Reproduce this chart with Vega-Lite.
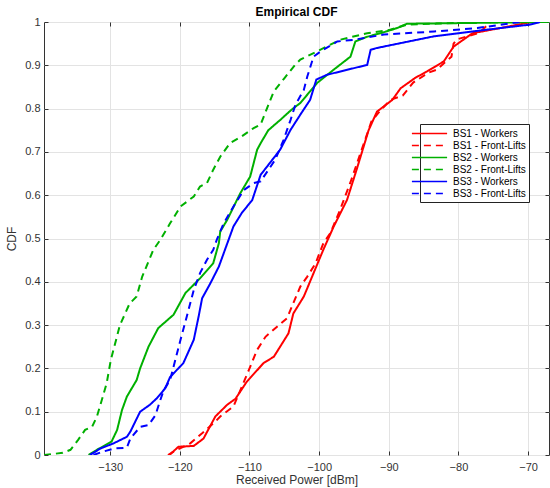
{
  "$schema": "https://vega.github.io/schema/vega-lite/v6.json",
  "width": 505,
  "height": 433,
  "autosize": {"type": "none"},
  "padding": {"left": 44, "top": 22, "right": 1, "bottom": 33},
  "background": "white",
  "title": {"text": "Empirical CDF", "fontSize": 12, "fontWeight": "bold", "font": "Liberation Sans", "color": "#000", "offset": -3},
  "config": {
    "view": {"stroke": "#333", "strokeWidth": 1},
    "axis": {
      "labelFont": "Liberation Sans",
      "labelFontSize": 11,
      "labelColor": "#333",
      "titleFont": "Liberation Sans",
      "titleFontSize": 12,
      "titleFontWeight": "normal",
      "titleColor": "#333",
      "domainColor": "#333",
      "tickColor": "#333",
      "gridColor": "#e3e3e3",
      "gridWidth": 1
    }
  },
  "data": {
    "values": [
      {"s": "BS1 - Workers", "i": 0, "x": -121.5, "y": 0},
      {"s": "BS1 - Workers", "i": 1, "x": -120.2, "y": 0.019},
      {"s": "BS1 - Workers", "i": 2, "x": -118.0, "y": 0.021},
      {"s": "BS1 - Workers", "i": 3, "x": -116.6, "y": 0.038},
      {"s": "BS1 - Workers", "i": 4, "x": -114.9, "y": 0.089},
      {"s": "BS1 - Workers", "i": 5, "x": -113.2, "y": 0.116},
      {"s": "BS1 - Workers", "i": 6, "x": -112.0, "y": 0.13},
      {"s": "BS1 - Workers", "i": 7, "x": -110.4, "y": 0.169},
      {"s": "BS1 - Workers", "i": 8, "x": -108.0, "y": 0.212},
      {"s": "BS1 - Workers", "i": 9, "x": -106.5, "y": 0.227},
      {"s": "BS1 - Workers", "i": 10, "x": -104.4, "y": 0.281},
      {"s": "BS1 - Workers", "i": 11, "x": -103.7, "y": 0.327},
      {"s": "BS1 - Workers", "i": 12, "x": -102.2, "y": 0.366},
      {"s": "BS1 - Workers", "i": 13, "x": -100.8, "y": 0.42},
      {"s": "BS1 - Workers", "i": 14, "x": -99.4, "y": 0.474},
      {"s": "BS1 - Workers", "i": 15, "x": -97.9, "y": 0.528},
      {"s": "BS1 - Workers", "i": 16, "x": -96.0, "y": 0.589},
      {"s": "BS1 - Workers", "i": 17, "x": -94.6, "y": 0.66},
      {"s": "BS1 - Workers", "i": 18, "x": -92.9, "y": 0.75},
      {"s": "BS1 - Workers", "i": 19, "x": -91.7, "y": 0.793},
      {"s": "BS1 - Workers", "i": 20, "x": -89.5, "y": 0.82},
      {"s": "BS1 - Workers", "i": 21, "x": -88.3, "y": 0.847},
      {"s": "BS1 - Workers", "i": 22, "x": -86.2, "y": 0.871},
      {"s": "BS1 - Workers", "i": 23, "x": -84.5, "y": 0.886},
      {"s": "BS1 - Workers", "i": 24, "x": -82.1, "y": 0.909},
      {"s": "BS1 - Workers", "i": 25, "x": -80.7, "y": 0.943},
      {"s": "BS1 - Workers", "i": 26, "x": -78.0, "y": 0.974},
      {"s": "BS1 - Workers", "i": 27, "x": -74.0, "y": 0.986},
      {"s": "BS1 - Workers", "i": 28, "x": -70.1, "y": 0.998},
      {"s": "BS1 - Workers", "i": 29, "x": -69.5, "y": 1},

      {"s": "BS1 - Front-Lifts", "i": 0, "x": -121.7, "y": 0},
      {"s": "BS1 - Front-Lifts", "i": 1, "x": -120.9, "y": 0.008},
      {"s": "BS1 - Front-Lifts", "i": 2, "x": -118.5, "y": 0.027},
      {"s": "BS1 - Front-Lifts", "i": 3, "x": -116.8, "y": 0.05},
      {"s": "BS1 - Front-Lifts", "i": 4, "x": -114.9, "y": 0.077},
      {"s": "BS1 - Front-Lifts", "i": 5, "x": -114.2, "y": 0.089},
      {"s": "BS1 - Front-Lifts", "i": 6, "x": -112.3, "y": 0.112},
      {"s": "BS1 - Front-Lifts", "i": 7, "x": -111.3, "y": 0.15},
      {"s": "BS1 - Front-Lifts", "i": 8, "x": -110.1, "y": 0.196},
      {"s": "BS1 - Front-Lifts", "i": 9, "x": -108.9, "y": 0.243},
      {"s": "BS1 - Front-Lifts", "i": 10, "x": -107.7, "y": 0.273},
      {"s": "BS1 - Front-Lifts", "i": 11, "x": -106.0, "y": 0.297},
      {"s": "BS1 - Front-Lifts", "i": 12, "x": -104.6, "y": 0.316},
      {"s": "BS1 - Front-Lifts", "i": 13, "x": -103.7, "y": 0.351},
      {"s": "BS1 - Front-Lifts", "i": 14, "x": -102.7, "y": 0.389},
      {"s": "BS1 - Front-Lifts", "i": 15, "x": -101.7, "y": 0.412},
      {"s": "BS1 - Front-Lifts", "i": 16, "x": -100.5, "y": 0.443},
      {"s": "BS1 - Front-Lifts", "i": 17, "x": -99.4, "y": 0.489},
      {"s": "BS1 - Front-Lifts", "i": 18, "x": -98.4, "y": 0.512},
      {"s": "BS1 - Front-Lifts", "i": 19, "x": -97.0, "y": 0.566},
      {"s": "BS1 - Front-Lifts", "i": 20, "x": -95.5, "y": 0.63},
      {"s": "BS1 - Front-Lifts", "i": 21, "x": -94.0, "y": 0.7},
      {"s": "BS1 - Front-Lifts", "i": 22, "x": -92.5, "y": 0.77},
      {"s": "BS1 - Front-Lifts", "i": 23, "x": -91.5, "y": 0.79},
      {"s": "BS1 - Front-Lifts", "i": 24, "x": -89.8, "y": 0.82},
      {"s": "BS1 - Front-Lifts", "i": 25, "x": -88.0, "y": 0.83},
      {"s": "BS1 - Front-Lifts", "i": 26, "x": -86.5, "y": 0.86},
      {"s": "BS1 - Front-Lifts", "i": 27, "x": -84.3, "y": 0.883},
      {"s": "BS1 - Front-Lifts", "i": 28, "x": -83.1, "y": 0.89},
      {"s": "BS1 - Front-Lifts", "i": 29, "x": -81.0, "y": 0.92},
      {"s": "BS1 - Front-Lifts", "i": 30, "x": -80.7, "y": 0.95},
      {"s": "BS1 - Front-Lifts", "i": 31, "x": -80.2, "y": 0.96},
      {"s": "BS1 - Front-Lifts", "i": 32, "x": -77.0, "y": 0.975},
      {"s": "BS1 - Front-Lifts", "i": 33, "x": -75.4, "y": 1},

      {"s": "BS2 - Workers", "i": 0, "x": -133.1, "y": 0},
      {"s": "BS2 - Workers", "i": 1, "x": -131.9, "y": 0.012},
      {"s": "BS2 - Workers", "i": 2, "x": -129.8, "y": 0.031},
      {"s": "BS2 - Workers", "i": 3, "x": -129.0, "y": 0.058},
      {"s": "BS2 - Workers", "i": 4, "x": -128.3, "y": 0.104},
      {"s": "BS2 - Workers", "i": 5, "x": -127.6, "y": 0.135},
      {"s": "BS2 - Workers", "i": 6, "x": -126.9, "y": 0.154},
      {"s": "BS2 - Workers", "i": 7, "x": -126.2, "y": 0.173},
      {"s": "BS2 - Workers", "i": 8, "x": -125.7, "y": 0.2},
      {"s": "BS2 - Workers", "i": 9, "x": -124.5, "y": 0.25},
      {"s": "BS2 - Workers", "i": 10, "x": -123.1, "y": 0.293},
      {"s": "BS2 - Workers", "i": 11, "x": -120.9, "y": 0.324},
      {"s": "BS2 - Workers", "i": 12, "x": -119.2, "y": 0.374},
      {"s": "BS2 - Workers", "i": 13, "x": -117.1, "y": 0.408},
      {"s": "BS2 - Workers", "i": 14, "x": -115.2, "y": 0.443},
      {"s": "BS2 - Workers", "i": 15, "x": -114.4, "y": 0.489},
      {"s": "BS2 - Workers", "i": 16, "x": -114.2, "y": 0.516},
      {"s": "BS2 - Workers", "i": 17, "x": -113.2, "y": 0.543},
      {"s": "BS2 - Workers", "i": 18, "x": -111.8, "y": 0.589},
      {"s": "BS2 - Workers", "i": 19, "x": -111.3, "y": 0.605},
      {"s": "BS2 - Workers", "i": 20, "x": -109.9, "y": 0.643},
      {"s": "BS2 - Workers", "i": 21, "x": -108.9, "y": 0.705},
      {"s": "BS2 - Workers", "i": 22, "x": -108.4, "y": 0.72},
      {"s": "BS2 - Workers", "i": 23, "x": -107.3, "y": 0.75},
      {"s": "BS2 - Workers", "i": 24, "x": -105.5, "y": 0.775},
      {"s": "BS2 - Workers", "i": 25, "x": -104.0, "y": 0.797},
      {"s": "BS2 - Workers", "i": 26, "x": -102.7, "y": 0.813},
      {"s": "BS2 - Workers", "i": 27, "x": -100.3, "y": 0.859},
      {"s": "BS2 - Workers", "i": 28, "x": -97.9, "y": 0.89},
      {"s": "BS2 - Workers", "i": 29, "x": -95.5, "y": 0.92},
      {"s": "BS2 - Workers", "i": 30, "x": -94.8, "y": 0.955},
      {"s": "BS2 - Workers", "i": 31, "x": -93.1, "y": 0.966},
      {"s": "BS2 - Workers", "i": 32, "x": -91.2, "y": 0.974},
      {"s": "BS2 - Workers", "i": 33, "x": -88.8, "y": 0.986},
      {"s": "BS2 - Workers", "i": 34, "x": -87.4, "y": 0.996},
      {"s": "BS2 - Workers", "i": 35, "x": -67.0, "y": 1},

      {"s": "BS2 - Front-Lifts", "i": 0, "x": -139.5, "y": 0},
      {"s": "BS2 - Front-Lifts", "i": 1, "x": -136.8, "y": 0.005},
      {"s": "BS2 - Front-Lifts", "i": 2, "x": -135.7, "y": 0.012},
      {"s": "BS2 - Front-Lifts", "i": 3, "x": -134.6, "y": 0.035},
      {"s": "BS2 - Front-Lifts", "i": 4, "x": -133.6, "y": 0.058},
      {"s": "BS2 - Front-Lifts", "i": 5, "x": -132.6, "y": 0.065},
      {"s": "BS2 - Front-Lifts", "i": 6, "x": -131.9, "y": 0.089},
      {"s": "BS2 - Front-Lifts", "i": 7, "x": -131.2, "y": 0.127},
      {"s": "BS2 - Front-Lifts", "i": 8, "x": -130.5, "y": 0.166},
      {"s": "BS2 - Front-Lifts", "i": 9, "x": -129.9, "y": 0.22},
      {"s": "BS2 - Front-Lifts", "i": 10, "x": -128.6, "y": 0.3},
      {"s": "BS2 - Front-Lifts", "i": 11, "x": -127.2, "y": 0.35},
      {"s": "BS2 - Front-Lifts", "i": 12, "x": -126.2, "y": 0.366},
      {"s": "BS2 - Front-Lifts", "i": 13, "x": -125.4, "y": 0.412},
      {"s": "BS2 - Front-Lifts", "i": 14, "x": -123.8, "y": 0.474},
      {"s": "BS2 - Front-Lifts", "i": 15, "x": -122.8, "y": 0.497},
      {"s": "BS2 - Front-Lifts", "i": 16, "x": -121.4, "y": 0.535},
      {"s": "BS2 - Front-Lifts", "i": 17, "x": -119.9, "y": 0.574},
      {"s": "BS2 - Front-Lifts", "i": 18, "x": -118.0, "y": 0.597},
      {"s": "BS2 - Front-Lifts", "i": 19, "x": -117.1, "y": 0.62},
      {"s": "BS2 - Front-Lifts", "i": 20, "x": -116.1, "y": 0.628},
      {"s": "BS2 - Front-Lifts", "i": 21, "x": -115.2, "y": 0.659},
      {"s": "BS2 - Front-Lifts", "i": 22, "x": -114.2, "y": 0.689},
      {"s": "BS2 - Front-Lifts", "i": 23, "x": -112.8, "y": 0.72},
      {"s": "BS2 - Front-Lifts", "i": 24, "x": -111.1, "y": 0.736},
      {"s": "BS2 - Front-Lifts", "i": 25, "x": -109.4, "y": 0.755},
      {"s": "BS2 - Front-Lifts", "i": 26, "x": -108.4, "y": 0.763},
      {"s": "BS2 - Front-Lifts", "i": 27, "x": -107.5, "y": 0.8},
      {"s": "BS2 - Front-Lifts", "i": 28, "x": -106.5, "y": 0.84},
      {"s": "BS2 - Front-Lifts", "i": 29, "x": -105.0, "y": 0.87},
      {"s": "BS2 - Front-Lifts", "i": 30, "x": -103.5, "y": 0.9},
      {"s": "BS2 - Front-Lifts", "i": 31, "x": -102.7, "y": 0.913},
      {"s": "BS2 - Front-Lifts", "i": 32, "x": -99.8, "y": 0.936},
      {"s": "BS2 - Front-Lifts", "i": 33, "x": -97.0, "y": 0.959},
      {"s": "BS2 - Front-Lifts", "i": 34, "x": -93.1, "y": 0.974},
      {"s": "BS2 - Front-Lifts", "i": 35, "x": -89.8, "y": 0.982},
      {"s": "BS2 - Front-Lifts", "i": 36, "x": -87.4, "y": 0.994},
      {"s": "BS2 - Front-Lifts", "i": 37, "x": -80.2, "y": 0.998},
      {"s": "BS2 - Front-Lifts", "i": 38, "x": -79.5, "y": 1},

      {"s": "BS3 - Workers", "i": 0, "x": -132.9, "y": 0},
      {"s": "BS3 - Workers", "i": 1, "x": -131.4, "y": 0.015},
      {"s": "BS3 - Workers", "i": 2, "x": -129.5, "y": 0.027},
      {"s": "BS3 - Workers", "i": 3, "x": -127.6, "y": 0.042},
      {"s": "BS3 - Workers", "i": 4, "x": -127.1, "y": 0.054},
      {"s": "BS3 - Workers", "i": 5, "x": -126.4, "y": 0.077},
      {"s": "BS3 - Workers", "i": 6, "x": -125.7, "y": 0.1},
      {"s": "BS3 - Workers", "i": 7, "x": -124.3, "y": 0.116},
      {"s": "BS3 - Workers", "i": 8, "x": -123.3, "y": 0.131},
      {"s": "BS3 - Workers", "i": 9, "x": -122.1, "y": 0.154},
      {"s": "BS3 - Workers", "i": 10, "x": -121.4, "y": 0.18},
      {"s": "BS3 - Workers", "i": 11, "x": -119.5, "y": 0.212},
      {"s": "BS3 - Workers", "i": 12, "x": -118.0, "y": 0.266},
      {"s": "BS3 - Workers", "i": 13, "x": -117.3, "y": 0.32},
      {"s": "BS3 - Workers", "i": 14, "x": -116.8, "y": 0.362},
      {"s": "BS3 - Workers", "i": 15, "x": -115.6, "y": 0.397},
      {"s": "BS3 - Workers", "i": 16, "x": -114.4, "y": 0.435},
      {"s": "BS3 - Workers", "i": 17, "x": -113.7, "y": 0.466},
      {"s": "BS3 - Workers", "i": 18, "x": -113.0, "y": 0.497},
      {"s": "BS3 - Workers", "i": 19, "x": -112.3, "y": 0.528},
      {"s": "BS3 - Workers", "i": 20, "x": -111.1, "y": 0.559},
      {"s": "BS3 - Workers", "i": 21, "x": -109.6, "y": 0.589},
      {"s": "BS3 - Workers", "i": 22, "x": -108.4, "y": 0.647},
      {"s": "BS3 - Workers", "i": 23, "x": -105.6, "y": 0.705},
      {"s": "BS3 - Workers", "i": 24, "x": -104.1, "y": 0.751},
      {"s": "BS3 - Workers", "i": 25, "x": -102.7, "y": 0.786},
      {"s": "BS3 - Workers", "i": 26, "x": -101.3, "y": 0.82},
      {"s": "BS3 - Workers", "i": 27, "x": -100.4, "y": 0.867},
      {"s": "BS3 - Workers", "i": 28, "x": -98.9, "y": 0.878},
      {"s": "BS3 - Workers", "i": 29, "x": -93.1, "y": 0.901},
      {"s": "BS3 - Workers", "i": 30, "x": -92.6, "y": 0.936},
      {"s": "BS3 - Workers", "i": 31, "x": -91.7, "y": 0.94},
      {"s": "BS3 - Workers", "i": 32, "x": -83.5, "y": 0.967},
      {"s": "BS3 - Workers", "i": 33, "x": -74.0, "y": 0.986},
      {"s": "BS3 - Workers", "i": 34, "x": -69.7, "y": 0.994},
      {"s": "BS3 - Workers", "i": 35, "x": -68.3, "y": 1},

      {"s": "BS3 - Front-Lifts", "i": 0, "x": -132.4, "y": 0},
      {"s": "BS3 - Front-Lifts", "i": 1, "x": -131.0, "y": 0.008},
      {"s": "BS3 - Front-Lifts", "i": 2, "x": -129.4, "y": 0.015},
      {"s": "BS3 - Front-Lifts", "i": 3, "x": -127.6, "y": 0.017},
      {"s": "BS3 - Front-Lifts", "i": 4, "x": -127.1, "y": 0.038},
      {"s": "BS3 - Front-Lifts", "i": 5, "x": -125.7, "y": 0.065},
      {"s": "BS3 - Front-Lifts", "i": 6, "x": -124.5, "y": 0.069},
      {"s": "BS3 - Front-Lifts", "i": 7, "x": -123.5, "y": 0.092},
      {"s": "BS3 - Front-Lifts", "i": 8, "x": -122.8, "y": 0.127},
      {"s": "BS3 - Front-Lifts", "i": 9, "x": -122.3, "y": 0.15},
      {"s": "BS3 - Front-Lifts", "i": 10, "x": -121.4, "y": 0.173},
      {"s": "BS3 - Front-Lifts", "i": 11, "x": -120.9, "y": 0.204},
      {"s": "BS3 - Front-Lifts", "i": 12, "x": -119.9, "y": 0.266},
      {"s": "BS3 - Front-Lifts", "i": 13, "x": -119.0, "y": 0.32},
      {"s": "BS3 - Front-Lifts", "i": 14, "x": -118.0, "y": 0.381},
      {"s": "BS3 - Front-Lifts", "i": 15, "x": -117.1, "y": 0.42},
      {"s": "BS3 - Front-Lifts", "i": 16, "x": -116.1, "y": 0.451},
      {"s": "BS3 - Front-Lifts", "i": 17, "x": -115.2, "y": 0.474},
      {"s": "BS3 - Front-Lifts", "i": 18, "x": -114.7, "y": 0.497},
      {"s": "BS3 - Front-Lifts", "i": 19, "x": -113.7, "y": 0.535},
      {"s": "BS3 - Front-Lifts", "i": 20, "x": -112.3, "y": 0.574},
      {"s": "BS3 - Front-Lifts", "i": 21, "x": -110.8, "y": 0.612},
      {"s": "BS3 - Front-Lifts", "i": 22, "x": -109.4, "y": 0.628},
      {"s": "BS3 - Front-Lifts", "i": 23, "x": -108.4, "y": 0.632},
      {"s": "BS3 - Front-Lifts", "i": 24, "x": -106.3, "y": 0.682},
      {"s": "BS3 - Front-Lifts", "i": 25, "x": -105.1, "y": 0.728},
      {"s": "BS3 - Front-Lifts", "i": 26, "x": -104.1, "y": 0.774},
      {"s": "BS3 - Front-Lifts", "i": 27, "x": -103.4, "y": 0.809},
      {"s": "BS3 - Front-Lifts", "i": 28, "x": -102.2, "y": 0.843},
      {"s": "BS3 - Front-Lifts", "i": 29, "x": -101.7, "y": 0.874},
      {"s": "BS3 - Front-Lifts", "i": 30, "x": -100.8, "y": 0.92},
      {"s": "BS3 - Front-Lifts", "i": 31, "x": -99.8, "y": 0.932},
      {"s": "BS3 - Front-Lifts", "i": 32, "x": -97.4, "y": 0.955},
      {"s": "BS3 - Front-Lifts", "i": 33, "x": -95.0, "y": 0.959},
      {"s": "BS3 - Front-Lifts", "i": 34, "x": -90.7, "y": 0.971},
      {"s": "BS3 - Front-Lifts", "i": 35, "x": -83.5, "y": 0.978},
      {"s": "BS3 - Front-Lifts", "i": 36, "x": -77.3, "y": 0.986},
      {"s": "BS3 - Front-Lifts", "i": 37, "x": -72.1, "y": 0.998},
      {"s": "BS3 - Front-Lifts", "i": 38, "x": -71.0, "y": 1}
    ]
  },
  "layer": [
    {
      "mark": {"type": "line", "strokeWidth": 2, "clip": true},
      "encoding": {
        "x": {
          "field": "x", "type": "quantitative",
          "scale": {"domain": [-139.5, -67], "nice": false, "zero": false},
          "axis": {"values": [-130, -120, -110, -100, -90, -80, -70], "grid": true, "tickSize": -4, "labelPadding": 10, "title": "Received Power [dBm]", "titlePadding": 2, "domain": false}
        },
        "y": {
          "field": "y", "type": "quantitative",
          "scale": {"domain": [0, 1], "nice": false, "zero": false},
          "axis": {"values": [0, 0.1, 0.2, 0.3, 0.4, 0.5, 0.6, 0.7, 0.8, 0.9, 1], "format": "~g", "grid": true, "tickSize": -4, "labelPadding": 8, "title": "CDF", "titlePadding": 6, "domain": false}
        },
        "color": {
          "field": "s", "type": "nominal",
          "scale": {
            "domain": ["BS1 - Workers", "BS1 - Front-Lifts", "BS2 - Workers", "BS2 - Front-Lifts", "BS3 - Workers", "BS3 - Front-Lifts"],
            "range": ["#ff0000", "#ff0000", "#00b000", "#00b000", "#0000ff", "#0000ff"]
          },
          "legend": {
            "title": null, "orient": "none", "legendX": 376, "legendY": 102,
            "strokeColor": "#222", "fillColor": "white", "padding": 3,
            "symbolType": "M-3.2,0H3.2", "symbolSize": 121, "symbolStrokeWidth": 1.5,
            "labelFont": "Liberation Sans", "labelFontSize": 10, "labelColor": "#000",
            "rowPadding": -1, "labelOffset": 17
          }
        },
        "strokeDash": {
          "field": "s", "type": "nominal",
          "scale": {
            "domain": ["BS1 - Workers", "BS1 - Front-Lifts", "BS2 - Workers", "BS2 - Front-Lifts", "BS3 - Workers", "BS3 - Front-Lifts"],
            "range": [[1, 0], [7, 5], [1, 0], [7, 5], [1, 0], [7, 5]]
          },
          "legend": {
            "title": null, "orient": "none", "legendX": 376, "legendY": 102,
            "strokeColor": "#222", "fillColor": "white", "padding": 3,
            "symbolType": "M-3.2,0H3.2", "symbolSize": 121, "symbolStrokeWidth": 1.5,
            "labelFont": "Liberation Sans", "labelFontSize": 10, "labelColor": "#000",
            "rowPadding": -1, "labelOffset": 17
          }
        },
        "order": {"field": "i", "type": "quantitative"}
      }
    },
    {
      "mark": {"type": "line", "opacity": 0},
      "encoding": {
        "x": {"field": "x", "type": "quantitative", "axis": {"orient": "top", "values": [-130, -120, -110, -100, -90, -80, -70], "labels": false, "grid": false, "tickSize": -4, "domain": false, "title": null}},
        "y": {"field": "y", "type": "quantitative", "axis": {"orient": "right", "values": [0, 0.1, 0.2, 0.3, 0.4, 0.5, 0.6, 0.7, 0.8, 0.9, 1], "labels": false, "grid": false, "tickSize": -4, "domain": false, "title": null}},
        "detail": {"field": "s", "type": "nominal"},
        "order": {"field": "i", "type": "quantitative"}
      }
    }
  ],
  "resolve": {"axis": {"x": "independent", "y": "independent"}}
}
